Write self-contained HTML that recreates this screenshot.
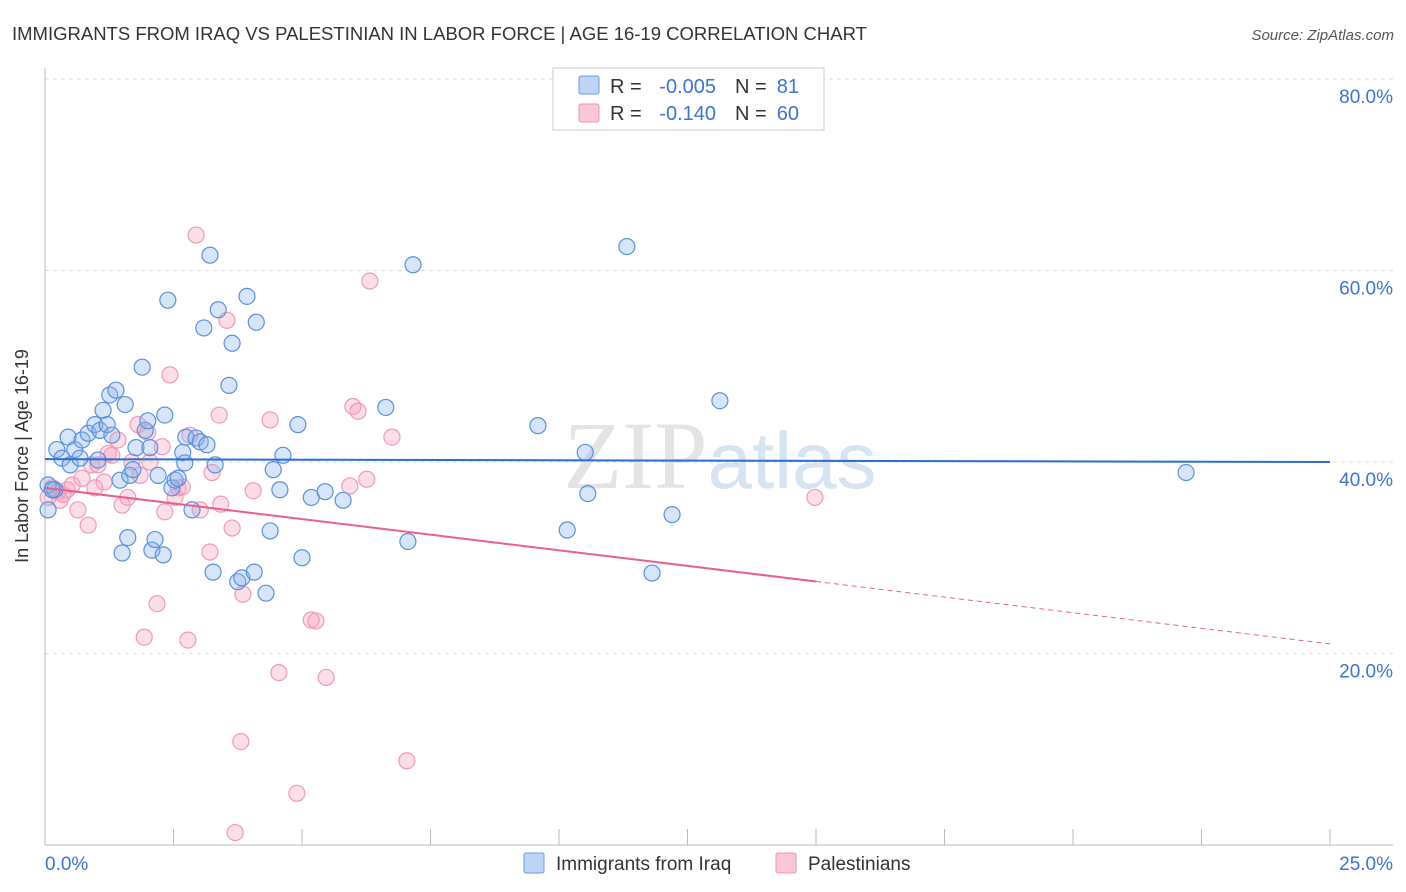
<!DOCTYPE html>
<html><head><meta charset="utf-8">
<style>
body{margin:0;background:#fff;font-family:"Liberation Sans",sans-serif;}
#wrap{position:relative;width:1406px;height:892px;overflow:hidden;}
</style></head>
<body><div id="wrap">
<svg id="svg" width="1406" height="892" xmlns="http://www.w3.org/2000/svg">
<text x="12" y="40" font-size="18.5" fill="#333">IMMIGRANTS FROM IRAQ VS PALESTINIAN IN LABOR FORCE | AGE 16-19 CORRELATION CHART</text>
<text x="1394" y="40" font-size="15" fill="#555" font-style="italic" text-anchor="end">Source: ZipAtlas.com</text>
<text x="720" y="488" font-size="96" fill="#e4e4e4" text-anchor="middle" font-family="Liberation Serif,serif">ZIP<tspan fill="#d6e3f3" font-family="Liberation Sans,sans-serif" font-size="80">atlas</tspan></text>
<g id="grid"></g>
<g id="axes"></g>
<g id="pts"></g>
<g id="trend"></g>
<text x="28" y="456" font-size="18" fill="#333" text-anchor="middle" transform="rotate(-90 28 456)">In Labor Force | Age 16-19</text>
<g>
<rect x="553" y="68" width="271" height="62" fill="#fff" stroke="#ccc"/>
<rect x="579" y="76" width="20" height="18" fill="#bcd4f5" stroke="#6a9be0" rx="2"/>
<rect x="579" y="104" width="20" height="18" fill="#f9c7d6" stroke="#ee93b0" rx="2"/>
<text x="610" y="93" font-size="20" fill="#333">R =</text>
<text x="716" y="93" font-size="20" fill="#3a74d4" text-anchor="end">-0.005</text>
<text x="735" y="93" font-size="20" fill="#333">N =</text>
<text x="799" y="93" font-size="20" fill="#3a74d4" text-anchor="end">81</text>
<text x="610" y="120" font-size="20" fill="#333">R =</text>
<text x="716" y="120" font-size="20" fill="#3a74d4" text-anchor="end">-0.140</text>
<text x="735" y="120" font-size="20" fill="#333">N =</text>
<text x="799" y="120" font-size="20" fill="#3a74d4" text-anchor="end">60</text>
</g>
<g>
<rect x="524" y="853" width="20" height="20" fill="#bcd4f5" stroke="#6a9be0" rx="2"/>
<text x="556" y="870" font-size="19" fill="#333">Immigrants from Iraq</text>
<rect x="776" y="853" width="20" height="20" fill="#f9c7d6" stroke="#ee93b0" rx="2"/>
<text x="808" y="870" font-size="19" fill="#333">Palestinians</text>
</g>
</svg>
<script>
const yTicks=[20,40,60,80];
const xTickLabels=["0.0%","25.0%"];
const bluePx=[[48,510],[55,490],[57,450],[62,458],[68,437],[70,465],[75,450],[80,458],[82,440],[88,433],[95,425],[100,430],[103,410],[107,425],[110,395],[112,435],[116,390],[120,480],[122,553],[125,405],[128,538],[130,475],[133,470],[136,448],[142,367],[145,430],[150,448],[152,550],[155,540],[158,475],[163,555],[165,415],[168,300],[172,488],[175,480],[178,478],[183,452],[185,463],[186,437],[192,510],[196,438],[200,442],[204,328],[207,445],[210,255],[213,572],[215,465],[218,310],[229,385],[232,343],[238,582],[242,578],[247,296],[254,572],[256,322],[266,593],[270,531],[273,470],[280,490],[283,455],[298,425],[302,558],[311,497],[325,492],[343,500],[386,407],[408,541],[413,265],[538,426],[567,530],[585,452],[588,494],[627,247],[652,573],[672,515],[720,401],[1186,473],[48,485],[52,490],[98,460],[148,421]];
const pinkPx=[[48,497],[52,488],[58,492],[63,495],[67,490],[72,485],[78,510],[82,478],[88,525],[92,465],[98,465],[104,482],[108,453],[112,455],[118,440],[122,505],[128,497],[132,462],[138,425],[144,637],[148,432],[150,462],[157,604],[162,447],[165,512],[170,375],[175,497],[178,488],[182,487],[188,640],[190,435],[196,235],[200,510],[210,552],[212,473],[219,415],[221,504],[227,320],[232,528],[235,833],[241,742],[243,594],[253,491],[270,420],[279,673],[297,793],[311,620],[316,621],[326,677],[350,486],[353,406],[358,411],[367,479],[370,281],[392,437],[407,761],[815,497],[60,500],[95,488],[140,475]];
const iraqX=bluePx.map(p=>+((p[0]-45)/51.4).toFixed(2));
const iraqY=bluePx.map(p=>+((845-p[1])/9.575).toFixed(1));
const palX=pinkPx.map(p=>+((p[0]-45)/51.4).toFixed(2));
const palY=pinkPx.map(p=>+((845-p[1])/9.575).toFixed(1));
const iraqTrend=[40.3,40.0];
const palTrend=[37.3,21.0];
const palSolidEnd=15;
const X=v=>45+v*51.4, Y=v=>845-v*9.575;
const NS="http://www.w3.org/2000/svg";
function mk(tag,attrs,parent){const e=document.createElementNS(NS,tag);for(const k in attrs)e.setAttribute(k,attrs[k]);document.getElementById(parent).appendChild(e);return e;}
yTicks.forEach(t=>{
 const l=mk('line',{x1:45,x2:1393,y1:Y(t),y2:Y(t),stroke:'#ddd','stroke-dasharray':'4,4'},'grid');
 
 
 const tx=mk('text',{x:1393,y:Y(t)+24,'font-size':19,fill:'#3a74d4','text-anchor':'end'},'grid');
 tx.textContent=t.toFixed(1)+'%';
 
 
});
const ax=mk('line',{x1:45,x2:45,y1:68,y2:845,stroke:'#bbb'},'axes');


const bx=mk('line',{x1:45,x2:1393,y1:845,y2:845,stroke:'#bbb'},'axes');


for(let i=0;i<=10;i++){const t=mk('line',{x1:X(i*2.5),x2:X(i*2.5),y1:829,y2:845,stroke:'#bbb'},'axes');
 
 }
const xl0=mk('text',{x:45,y:870,'font-size':19,fill:'#3a74d4'},'axes');xl0.textContent=xTickLabels[0];


const xl1=mk('text',{x:1393,y:870,'font-size':19,fill:'#3a74d4','text-anchor':'end'},'axes');xl1.textContent=xTickLabels[1];


palX.forEach((x,i)=>{const c=mk('circle',{cx:X(x),cy:Y(palY[i]),r:8,fill:'rgba(246,160,188,0.35)',stroke:'#f09ab6','stroke-width':1.2},'pts');
 
 });
iraqX.forEach((x,i)=>{const c=mk('circle',{cx:X(x),cy:Y(iraqY[i]),r:8,fill:'rgba(140,180,235,0.35)',stroke:'#5a8fdd','stroke-width':1.2},'pts');
 
 });
const bt=mk('line',{x1:X(0),x2:X(25),y1:Y(iraqTrend[0]),y2:Y(iraqTrend[1]),stroke:'#2a6dd4','stroke-width':2},'trend');


const pv=x=>palTrend[0]+(palTrend[1]-palTrend[0])*x/25;
const pt=mk('line',{x1:X(0),x2:X(palSolidEnd),y1:Y(pv(0)),y2:Y(pv(palSolidEnd)),stroke:'#e8608c','stroke-width':2},'trend');


const pd=mk('line',{x1:X(palSolidEnd),x2:X(25),y1:Y(pv(palSolidEnd)),y2:Y(pv(25)),stroke:'#e8608c','stroke-width':1,'stroke-dasharray':'5,4'},'trend');


</script>
</div></body></html>
